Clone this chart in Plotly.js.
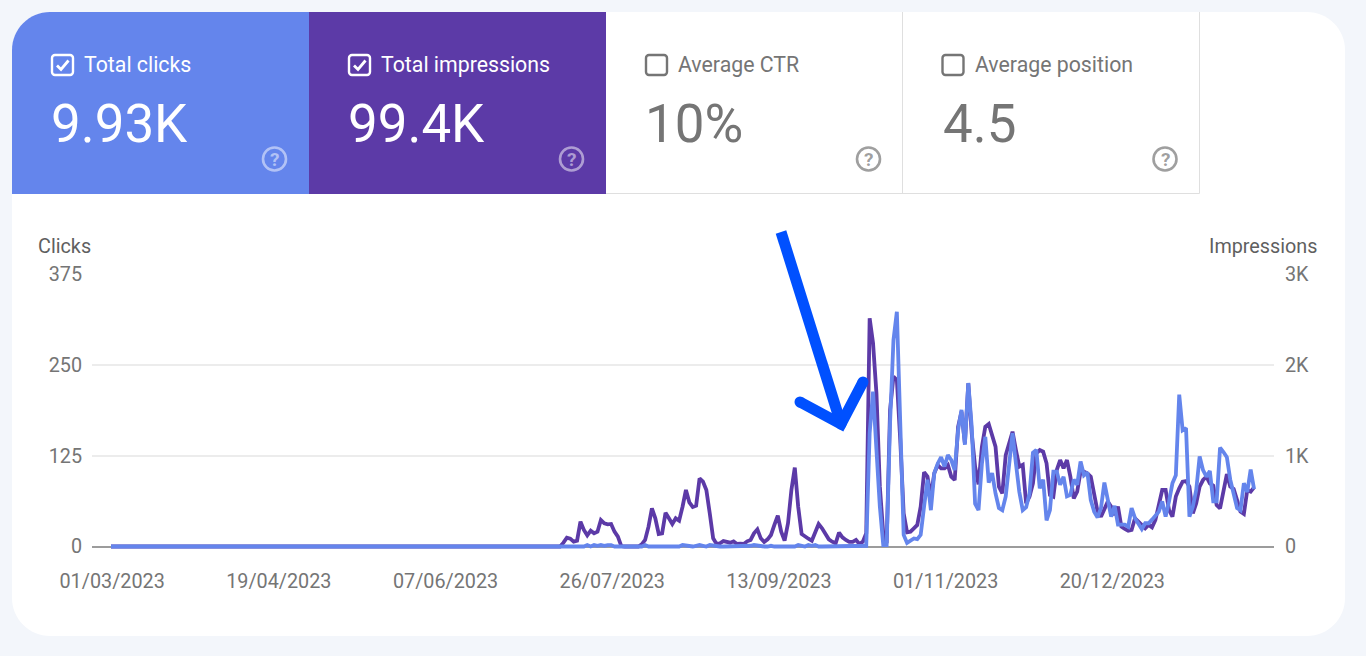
<!DOCTYPE html>
<html>
<head>
<meta charset="utf-8">
<script src="https://cdn.plot.ly/plotly-3.0.1.min.js"></script>
<style>html,body{margin:0;padding:0;background:#f3f6fb;overflow:hidden}#chart{width:1366px;height:656px}</style>
</head>
<body>
<div id="chart"></div>
<script>
// Daily values, first value = 01/03/2023
const firstDay = '2023-03-01';
const clicks = [
0,0,0,0,0,0,0,0,0,0,0,0,0,0,0,0,0,0,0,0,
0,0,0,0,0,0,0,0,0,0,0,0,0,0,0,0,0,0,0,0,
0,0,0,0,0,0,0,0,0,0,0,0,0,0,0,0,0,0,0,0,
0,0,0,0,0,0,0,0,0,0,0,0,0,0,0,0,0,0,0,0,
0,0,0,0,0,0,0,0,0,0,0,0,0,0,0,0,0,0,0,0,
0,0,0,0,0,0,0,0,0,0,0,0,0,0,0,0,0,0,0,0,
0,0,0,0,0,0,0,0,0,0,0,0,
0,0,0,0,0,0,0,0,
2,0,2,1,2,1,2,2,0,0,
0,0,0,0,0,0,0,2,0,0,
0,0,0,0,0,0,0,0,2,1,
1,0,1,2,1,0,2,1,0,0,
0,0,0,0,0,0,0,1,1,2,
1,0,0,0,1,0,0,0,0,0,
1,0,2,1,0,2,1,2,0,0,
0,0,0,0,0,0,0,0,0,0,
0,0,1,156,213,133,55,2,2,170,
284,323,179,16,5,8,11,10,16,55,
92,50,101,114,123,110,126,119,105,160,
188,140,225,165,59,50,114,151,88,101,
73,53,50,69,114,156,114,
75,50,54,73,129,133,80,92,36,50,
103,103,85,96,69,71,92,85,117,98,
102,64,48,40,53,88,62,41,56,30,
30,30,27,53,39,32,24,32,32,37,
43,48,62,41,62,87,98,209,160,163,
41,55,78,124,105,96,104,62,62,136,
130,123,92,71,53,50,87,75,106,79
];
const impressions = [
0,0,0,0,0,0,0,0,0,0,0,0,0,0,0,0,0,0,0,0,
0,0,0,0,0,0,0,0,0,0,0,0,0,0,0,0,0,0,0,0,
0,0,0,0,0,0,0,0,0,0,0,0,0,0,0,0,0,0,0,0,
0,0,0,0,0,0,0,0,0,0,0,0,0,0,0,0,0,0,0,0,
0,0,0,0,0,0,0,0,0,0,0,0,0,0,0,0,0,0,0,0,
0,0,0,0,0,0,0,0,0,0,0,0,0,0,0,0,0,0,0,0,
0,0,0,0,0,0,0,0,0,0,0,0,
0,42,97,86,53,64,273,182,123,174,145,163,292,255,244,248,163,108,5,
0,0,0,0,0,24,72,218,420,310,138,145,372,310,248,310,284,438,622,486,
435,450,750,714,622,365,90,28,35,60,50,42,57,28,31,28,57,72,145,189,
90,50,79,127,237,340,163,64,255,622,868,438,138,108,86,64,145,248,200,145,
79,53,35,152,101,72,50,50,72,28,53,145,2512,2237,1686,659,145,35,1503,1870,
1833,1172,365,156,163,200,237,438,817,769,549,806,897,861,861,897,769,732,1319,1484,
1136,1796,1246,879,684,1099,1319,1349,1209,1099,659,585,1007,1154,1264,1062,879,
900,475,549,695,1026,1062,1044,916,567,549,
842,952,861,952,769,530,604,824,824,806,
769,585,384,328,402,494,439,347,439,218,
193,174,182,310,273,237,200,237,211,292,
439,622,622,402,328,549,640,714,721,659,
365,475,659,732,769,695,670,457,420,622,
798,659,633,512,384,358,622,604,651,640
];
const xTickDates = ['2023-03-01 08:00','2023-04-19 08:00','2023-06-07 08:00','2023-07-26 08:00','2023-09-13 08:00','2023-11-01 08:00','2023-12-20 08:00'];
const xTickLabels = ['01/03/2023','19/04/2023','07/06/2023','26/07/2023','13/09/2023','01/11/2023','20/12/2023'];
const clickTicks = [0,125,250,375];
const impressionTicks = [0,1000,2000,3000];
const impressionTickLabels = ['0','1K','2K','3K'];
const cards = [
  {label:'Total clicks', value:'9.93K', x:12, valueX:51, checked:true},
  {label:'Total impressions', value:'99.4K', x:309, valueX:348, checked:true},
  {label:'Average CTR', value:'10%', x:606, valueX:645, checked:false},
  {label:'Average position', value:'4.5', x:902.5, valueX:942.5, checked:false}
];

// Page geometry: zero sits at y=546.5; the plot area runs a few px lower so the thick line on zero is not cut
const W=1366,H=656, L=92,R=1274,T=274,Z=546.5,B=551;
const below=(B-Z)/(Z-T);
const px=x=>(x-L)/(R-L), py=y=>(B-y)/(B-T);
const P=(x,y)=>px(x)+','+py(y);
const BLUE='#6485ec', PURPLE='#5c3aa7', ARROW='#0050ff', GREY='#757575';
const dayMs=86400000, t0=Date.parse(firstDay+'T00:00:00Z');
const iso=ms=>new Date(ms).toISOString().slice(0,19).replace('T',' ');
const dates=clicks.map((_,i)=>iso(t0+i*dayMs));
const scale=3.402, x0=111;
const xRange=[iso(t0+(L-x0)/scale*dayMs), iso(t0+(R-x0)/scale*dayMs)];

const pathShape=(d,o)=>Object.assign({type:'path',xref:'paper',yref:'paper',path:d,layer:'below',line:{width:0}},o);
const rr=(x1,y1,x2,y2,r)=>{const k=r*0.4477;return `M${P(x1+r,y1)} L${P(x2-r,y1)} C${P(x2-k,y1)} ${P(x2,y1+k)} ${P(x2,y1+r)} L${P(x2,y2-r)} C${P(x2,y2-k)} ${P(x2-k,y2)} ${P(x2-r,y2)} L${P(x1+r,y2)} C${P(x1+k,y2)} ${P(x1,y2-k)} ${P(x1,y2-r)} L${P(x1,y1+r)} C${P(x1,y1+k)} ${P(x1+k,y1)} ${P(x1+r,y1)} Z`;};
const circle=(cx,cy,r,o)=>Object.assign({type:'circle',xref:'paper',yref:'paper',x0:px(cx-r),x1:px(cx+r),y0:py(cy+r),y1:py(cy-r),layer:'below',line:{width:0}},o);

const shapes=[
  pathShape(rr(12,12,1345,636,38),{fillcolor:'#ffffff'}),
  pathShape(`M${P(12,194)} L${P(12,50)} C${P(12,29)} ${P(29,12)} ${P(50,12)} L${P(309,12)} L${P(309,194)} Z`,{fillcolor:BLUE}),
  pathShape(`M${P(309,12)} L${P(606,12)} L${P(606,194)} L${P(309,194)} Z`,{fillcolor:PURPLE}),
  pathShape(`M${P(606,193.5)} L${P(1199.5,193.5)} L${P(1199.5,12)}`,{line:{color:'#dfdfdf',width:1}}),
  pathShape(`M${P(902.5,12)} L${P(902.5,193.5)}`,{line:{color:'#dfdfdf',width:1}})
];
const annotations=[];
const txt=(x,y,text,size,color,anchor)=>annotations.push({xref:'paper',yref:'paper',x:px(x),y:py(y),xanchor:anchor||'left',yanchor:'middle',showarrow:false,text:text,font:{family:'Roboto',size:size,color:color},borderpad:0,borderwidth:0,captureevents:false});

cards.forEach(c=>{
  const on=c.checked, col=on?'#ffffff':GREY, bx=c.x+40;
  shapes.push(pathShape(rr(bx,55,bx+21,75,3),{line:{color:col,width:2.4}}));
  if(on) shapes.push(pathShape(`M${P(bx+5,65.5)} L${P(bx+9,69.5)} L${P(bx+16.5,60.5)}`,{line:{color:col,width:2.8}}));
  txt(c.x+72,65,c.label,21.3,on?'#ffffff':GREY);
  txt(c.valueX,124,c.value,52.9,on?'#ffffff':GREY);
  const ic=on?'rgba(255,255,255,0.5)':'rgba(95,95,95,0.6)', cx=c.x+262.5;
  shapes.push(circle(cx,159,11.5,{line:{color:ic,width:2.6}}));
  txt(cx,159.5,'<b>?</b>',19,ic,'center');
});

txt(38,246.5,'Clicks',19.8,'#5f5f5f');
txt(1318.5,246.5,'Impressions',19.8,'#5f5f5f','right');

// hand-drawn arrow
const arrowLine={color:ARROW,width:11};
shapes.push(pathShape(`M${P(781,232)} L${P(841,424)}`,{layer:'above',line:arrowLine}));
shapes.push(pathShape(`M${P(800,402)} L${P(841,424)} L${P(863,382)}`,{layer:'above',line:arrowLine}));
[[800,402],[841,424],[863,382]].forEach(p=>shapes.push(circle(p[0],p[1],5.5,{layer:'above',fillcolor:ARROW})));

const data=[
  {x:dates,y:impressions,yaxis:'y',type:'scatter',mode:'lines',cliponaxis:false,line:{color:PURPLE,width:3.8},hoverinfo:'skip',name:'Impressions'},
  {x:dates,y:clicks,yaxis:'y2',type:'scatter',mode:'lines',cliponaxis:false,line:{color:BLUE,width:3.8},hoverinfo:'skip',name:'Clicks'}
];
const tickFont={family:'Roboto',size:19.8,color:GREY};
const layout={
  width:W,height:H,margin:{l:L,r:W-R,t:T,b:H-B,pad:0},
  paper_bgcolor:'#f3f6fb',plot_bgcolor:'rgba(0,0,0,0)',showlegend:false,
  font:{family:'Roboto'},
  shapes:shapes,annotations:annotations,
  xaxis:{type:'date',range:xRange,tickmode:'array',tickvals:xTickDates,ticktext:xTickLabels,
    showgrid:false,zeroline:false,showline:false,ticks:'',tickfont:tickFont,ticklabelstandoff:16,fixedrange:true},
  // impressions draw first (underneath), clicks overlay on top as in the reference
  yaxis:{range:[-3000*below,3000],side:'right',tickmode:'array',tickvals:impressionTicks,ticktext:impressionTickLabels,
    showgrid:true,gridcolor:'#ececec',gridwidth:2,zeroline:true,zerolinecolor:'#9c9c9c',zerolinewidth:2,
    showline:false,ticks:'',tickfont:tickFont,ticklabelstandoff:10,fixedrange:true},
  yaxis2:{range:[-375*below,375],overlaying:'y',side:'left',tickmode:'array',tickvals:clickTicks,
    showgrid:false,zeroline:false,showline:false,ticks:'',tickfont:tickFont,ticklabelstandoff:9,fixedrange:true}
};
Plotly.newPlot('chart',data,layout,{displayModeBar:false,staticPlot:true});
</script>
</body>
</html>
